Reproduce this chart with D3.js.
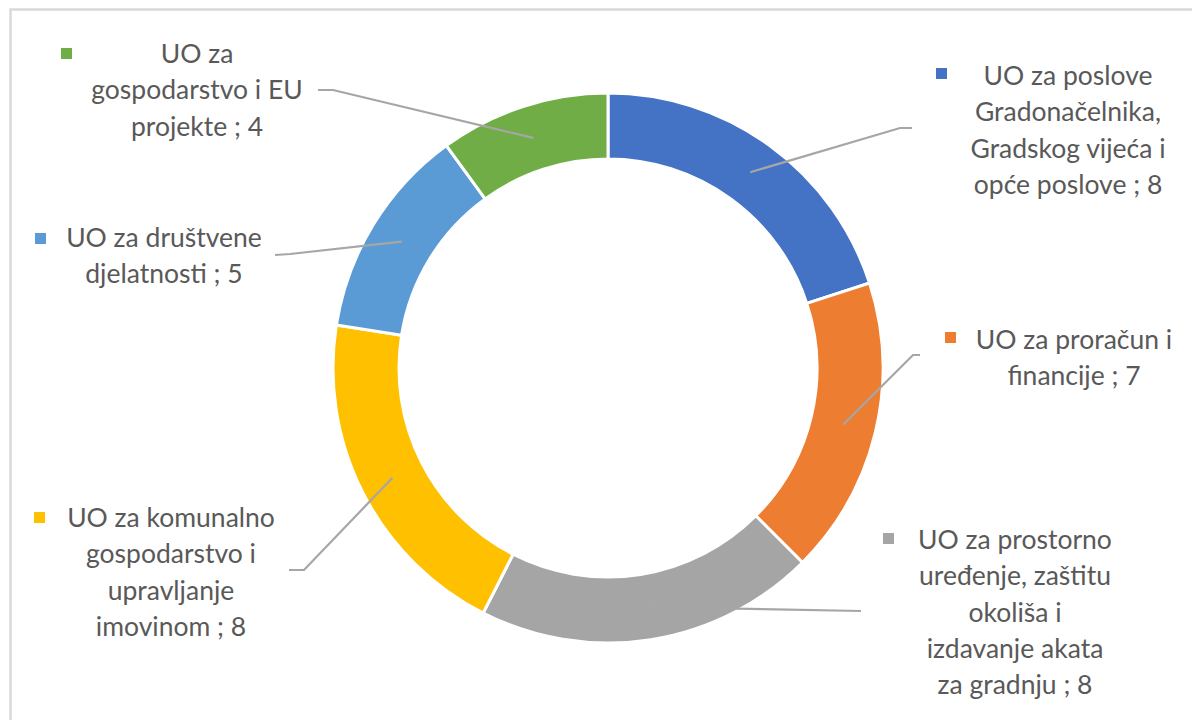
<!DOCTYPE html>
<html>
<head>
<meta charset="utf-8">
<script src="https://cdn.jsdelivr.net/npm/d3@7"></script>
<style>
  html, body { margin: 0; padding: 0; background: #fff; }
  svg text { font-family: Lato, "Open Sans", sans-serif; fill: #595959; }
</style>
</head>
<body>
<div id="chart"></div>
<script>
// data, clockwise from 12 o'clock
var categoryLines = [
    ["UO za poslove", "Gradonačelnika,", "Gradskog vijeća i", "opće poslove"],
    ["UO za proračun i", "financije"],
    ["UO za prostorno", "uređenje, zaštitu", "okoliša i", "izdavanje akata", "za gradnju"],
    ["UO za komunalno", "gospodarstvo i", "upravljanje", "imovinom"],
    ["UO za društvene", "djelatnosti"],
    ["UO za", "gospodarstvo i EU", "projekte"]
];
var values = [8, 7, 8, 8, 5, 4];
var colors = ["#4472c4", "#ed7d31", "#a5a5a5", "#ffc000", "#5b9bd5", "#70ad47"];

// where each data label sits (centre x, first baseline, key square, leader end)
var labelLayout = [
    {cx: 1068, y: 85,  mx: 936, my: 68,  elbow: [900, 128], end: [912, 128]},
    {cx: 1074, y: 349, mx: 945, my: 332, elbow: [913, 355], end: [920, 355]},
    {cx: 1015, y: 549, mx: 883, my: 533, elbow: [861, 611], end: [861, 611]},
    {cx: 171,  y: 527, mx: 34,  my: 512, elbow: [304, 570], end: [289, 570]},
    {cx: 164,  y: 247, mx: 35,  my: 233, elbow: [290, 254], end: [275, 255]},
    {cx: 197,  y: 63,  mx: 61,  my: 48,  elbow: [333, 90],  end: [318, 90]}
];

var width = 1192, height = 720;
var cx = 608, cy = 368;
var outerR = 275, innerR = 209;
var lineH = 36.3;

var svg = d3.select("#chart").append("svg")
    .attr("width", width)
    .attr("height", height);

// chart area border (runs off the right/bottom edge)
svg.append("rect")
    .attr("x", 10.5).attr("y", 9.5)
    .attr("width", 1300).attr("height", 900)
    .attr("fill", "#fff")
    .attr("stroke", "#d9d9d9")
    .attr("stroke-width", 2.5);

var pie = d3.pie().sort(null).value(function (d) { return d; });
var arc = d3.arc().innerRadius(innerR).outerRadius(outerR);
var arcs = pie(values);

var g = svg.append("g").attr("transform", "translate(" + cx + "," + cy + ")");

g.selectAll("path.slice")
    .data(arcs)
    .enter().append("path")
    .attr("class", "slice")
    .attr("d", arc)
    .attr("fill", function (d, i) { return colors[i]; })
    .attr("stroke", "#fff")
    .attr("stroke-width", 3);

// leader lines
svg.selectAll("polyline.leader")
    .data(arcs)
    .enter().append("polyline")
    .attr("class", "leader")
    .attr("points", function (d, i) {
        var c = arc.centroid(d);
        var L = labelLayout[i];
        return [[c[0] + cx, c[1] + cy], L.elbow, L.end].map(function (p) { return p.join(","); }).join(" ");
    })
    .attr("fill", "none")
    .attr("stroke", "#a6a6a6")
    .attr("stroke-width", 2.2);

// labels
var labels = svg.selectAll("g.label")
    .data(arcs)
    .enter().append("g")
    .attr("class", "label");

labels.append("rect")
    .attr("x", function (d, i) { return labelLayout[i].mx; })
    .attr("y", function (d, i) { return labelLayout[i].my; })
    .attr("width", 11).attr("height", 11)
    .attr("fill", function (d, i) { return colors[i]; });

labels.each(function (d, i) {
    var L = labelLayout[i];
    var lines = categoryLines[i].slice();
    lines[lines.length - 1] = lines[lines.length - 1] + " ; " + values[i];
    var t = d3.select(this).append("text")
        .attr("text-anchor", "middle")
        .attr("font-size", 26.5);
    lines.forEach(function (ln, k) {
        t.append("tspan")
            .attr("x", L.cx)
            .attr("y", L.y + k * lineH)
            .text(ln);
    });
});
</script>
</body>
</html>
